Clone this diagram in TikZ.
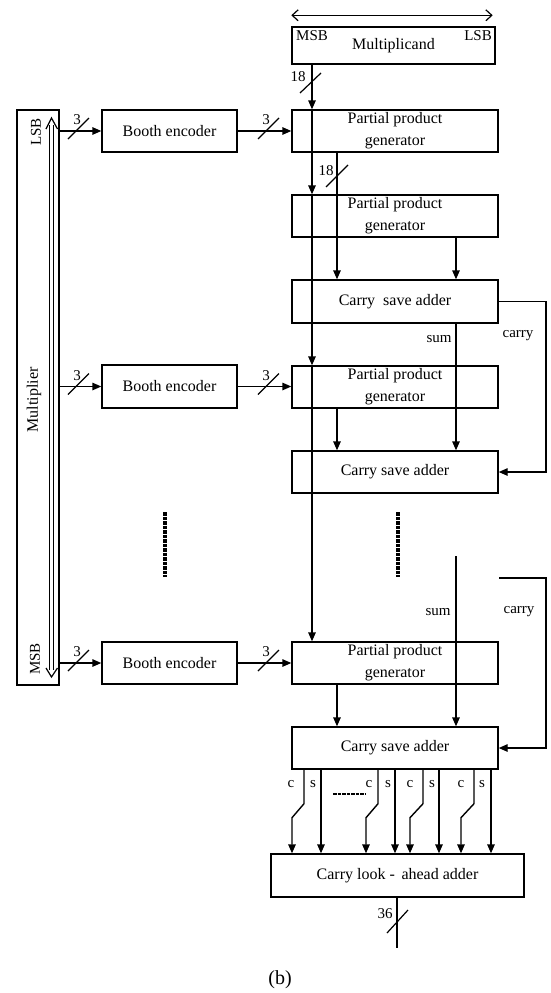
\documentclass[tikz,border=0pt]{standalone}
\usepackage{fontspec}
\setmainfont{Liberation Serif}
\usetikzlibrary{arrows.meta,calc}
\begin{document}
\begin{tikzpicture}[x=1pt,y=-1pt,
  box/.style={draw,line width=1.4pt,inner sep=0pt,align=center,font=\fontsize{16}{22}\selectfont},
  pbox/.style={box,minimum width=206pt,minimum height=42pt},
  bbox/.style={box,minimum width=135pt,minimum height=42pt},
  lbl/.style={inner sep=0pt,font=\fontsize{15}{18}\selectfont},
  conn/.style={line width=1.4pt,-{Triangle[length=9pt,width=7.5pt]}},
  wire/.style={line width=1.4pt},
  slashln/.style={line width=1.2pt},
  dotln/.style={line width=3.2pt,dash pattern=on 3.5pt off 1pt},
  barb/.style={line width=1.2pt}
]
\useasboundingbox (0,0) rectangle (550,993);

% ---- boxes ----
\node[box,minimum width=203pt,minimum height=37pt] (mcand) at (393.5,45.5) {Multiplicand};
\node[pbox] (ppg1) at (395,131) {Partial product\\generator};
\node[pbox] (ppg2) at (395,216) {Partial product\\generator};
\node[pbox,minimum height=43pt] (csa1) at (395,301.5) {Carry~ save adder};
\node[pbox] (ppg3) at (395,387) {Partial product\\generator};
\node[pbox] (csa2) at (395,472) {Carry save adder};
\node[pbox] (ppg4) at (395,663) {Partial product\\generator};
\node[pbox] (csa3) at (395,748) {Carry save adder};
\node[box,minimum width=253pt,minimum height=43pt] (cla) at (397.5,875.5) {Carry look - \,ahead adder};
\node[bbox] (be1) at (169.5,131) {Booth encoder};
\node[bbox,minimum height=43pt] (be2) at (169.5,386.5) {Booth encoder};
\node[bbox] (be3) at (169.5,663) {Booth encoder};
\node[box,minimum width=42pt,minimum height=575pt] (mult) at (38,397.5) {};

% ---- labels in boxes ----
\node[lbl,anchor=north west] (msb1) at (296,30) {MSB};
\node[lbl,anchor=north east] (lsb1) at (492,30) {LSB};
\node[lbl,rotate=90] (lsb2) at (36,132) {LSB};
\node[lbl,rotate=90,font=\fontsize{16}{18}\selectfont] (mlab) at (34,400) {Multiplier};
\node[lbl,rotate=90] (msb2) at (35,659) {MSB};

% ---- top double arrow ----
\draw[line width=1.2pt,{Straight Barb[length=6pt,width=11pt]}-{Straight Barb[length=6pt,width=11pt]}]
  ($(mcand.north west)+(0,-11)$) -- ($(mcand.north east)+(-3,-11)$);

% ---- multiplier bit arrow (double line) ----
\draw[barb] (49.5,125) -- (49.5,670);
\draw[barb] (53.5,125) -- (53.5,670);
\draw[barb] (46,129) -- (51.5,118) -- (57.5,129);
\draw[barb] (46,668) -- (51.5,677) -- (57.5,668);

% ---- helper coordinates ----
\coordinate (mx) at (312,0);
\coordinate (px) at (337,0);
\coordinate (sx) at (456,0);
\coordinate (cx) at (546,0);

% ---- multiplicand bus ----
\draw[conn] (mcand.south -| mx) -- (ppg1.north -| mx);
\draw[conn] (ppg1.north -| mx) -- (ppg2.north -| mx);
\draw[conn] (ppg2.north -| mx) -- (ppg3.north -| mx);
\draw[conn] (ppg3.north -| mx) -- (ppg4.north -| mx);
\draw[slashln] (300,93) -- (321,73);
\node[lbl] (n18a) at (298,77) {18};

% ---- first stage ----
\draw[conn] (ppg1.south -| px) -- (csa1.north -| px);
\draw[slashln] (326,187) -- (348,165);
\node[lbl] (n18b) at (326,171) {18};
\draw[conn] (ppg2.south -| sx) -- (csa1.north -| sx);
\draw[conn] (csa1.south -| sx) -- (csa2.north -| sx);
\node[lbl] (sum1) at (439,339) {sum};
\draw[conn] (csa1.east) -- (csa1.east -| cx) |- (csa2.east);
\node[lbl] (carry1) at (518,336) {carry};
\draw[conn] (ppg3.south -| px) -- (csa2.north -| px);

% ---- continuation dots ----
\draw[dotln] (165,512) -- (165,577);
\draw[dotln] (398,512) -- (398,577);

% ---- last stage ----
\coordinate (sumtop) at (456,556);
\coordinate (carrytop) at (499,578);
\draw[conn] (sumtop) -- (csa3.north -| sumtop);
\node[lbl] (sum2) at (438,612) {sum};
\draw[conn] (carrytop) -- (carrytop -| cx) |- (csa3.east);
\node[lbl] (carry2) at (519,612) {carry};
\draw[conn] (ppg4.south -| px) -- (csa3.north -| px);

% ---- booth encoders ----
\draw[conn] (mult.east |- be1.west) -- (be1.west);
\draw[conn] (be1.east) -- (ppg1.west |- be1.east);
\draw[conn] (mult.east |- be2.west) -- (be2.west);
\draw[conn] (be2.east) -- (ppg3.west |- be2.east);
\draw[conn] (mult.east |- be3.west) -- (be3.west);
\draw[conn] (be3.east) -- (ppg4.west |- be3.east);
\foreach \yy/\nm in {131/a,386.5/b,663/c}{
  \draw[slashln] (68,\yy+8) -- (89,\yy-13);
  \draw[slashln] (258,\yy+8) -- (279,\yy-13);
  \node[lbl] (three1\nm) at (77,\yy-11) {3};
  \node[lbl] (three2\nm) at (266,\yy-11) {3};
}

% ---- carry/sum outputs to CLA ----
\foreach \ct/\cb/\sx/\cl/\sl/\k in {304/292/321/291/313/1,378/366/395/369/388/2,423/410/439/410/432/3,474/461/491/461/482/4}{
  \coordinate (ctop\k) at (\ct,0);
  \coordinate (cbot\k) at (\cb,0);
  \coordinate (sline\k) at (\sx,0);
  \draw[conn] (csa3.south -| ctop\k) -- ($(csa3.south -| ctop\k)+(0,34)$) -- ($(csa3.south -| cbot\k)+(0,48)$) -- (cla.north -| cbot\k);
  \draw[conn] (csa3.south -| sline\k) -- (cla.north -| sline\k);
  \node[lbl] (clab\k) at (\cl,784) {c};
  \node[lbl] (slab\k) at (\sl,784) {s};
}
\draw[line width=2.8pt,dash pattern=on 3.5pt off 1pt] (333,794) -- (365,794);

% ---- output ----
\coordinate (outend) at (397,948);
\draw[wire] (cla.south -| outend) -- (outend);
\draw[slashln] (387,933) -- (408,910);
\node[lbl] (n36) at (385,914) {36};

\node[lbl,font=\fontsize{20}{22}\selectfont] (cap) at (280,980) {(b)};
\end{tikzpicture}
\end{document}
